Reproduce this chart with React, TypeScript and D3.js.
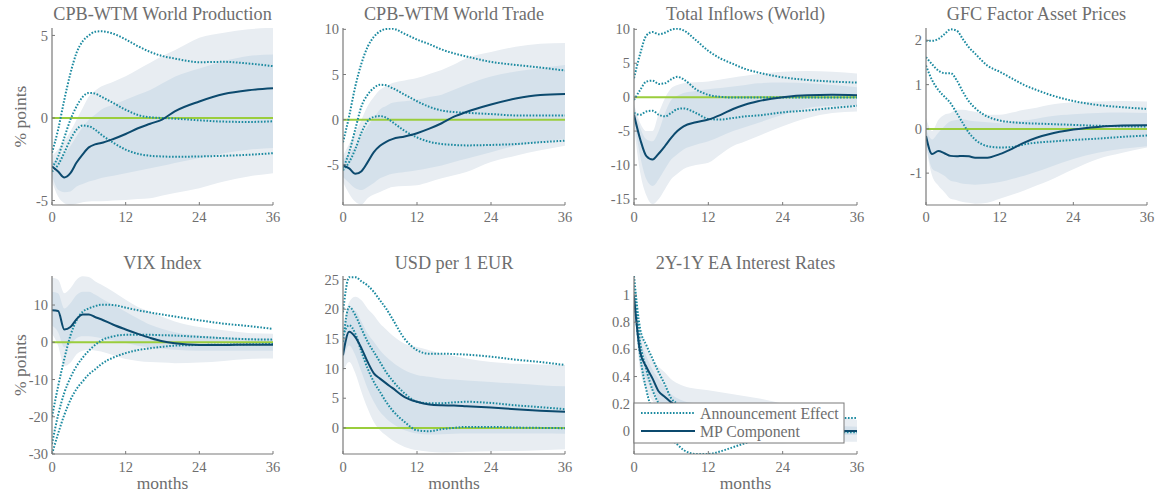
import React from 'react';
import * as d3 from 'd3';

// ---------- data ----------
const MONTHS = [0, 1, 2, 3, 4, 5, 6, 7, 8, 10, 12, 14, 16, 18, 20, 24, 28, 32, 36];
const X_TICKS = [0, 12, 24, 36];

// CPB-WTM World Production
const prodMedian = [-2.94, -3.24, -3.6, -3.34, -2.7, -2.2, -1.78, -1.6, -1.52, -1.27, -0.97, -0.62, -0.35, -0.08, 0.4, 1.0, 1.45, 1.68, 1.8];
const prodAnnHigh = [-2.1, -0.7, 1.1, 2.7, 3.95, 4.65, 5.0, 5.22, 5.25, 5.1, 4.76, 4.35, 4.0, 3.75, 3.6, 3.38, 3.4, 3.3, 3.14];
const prodAnnMid = [-3.0, -2.33, -1.2, -0.1, 0.7, 1.28, 1.52, 1.48, 1.3, 0.9, 0.5, 0.18, 0.04, 0, -0.04, -0.14, -0.22, -0.24, -0.2];
const prodAnnLow = [-3.24, -2.83, -2.1, -1.3, -0.7, -0.46, -0.5, -0.7, -1.0, -1.5, -1.92, -2.17, -2.29, -2.33, -2.35, -2.33, -2.29, -2.23, -2.13];
const prodOuterHigh = [-2.3, -1.9, -1.4, -0.8, -0.1, 0.6, 1.3, 1.65, 1.9, 2.2, 2.53, 2.94, 3.34, 3.75, 4.1, 4.86, 5.16, 5.37, 5.47];
const prodInnerHigh = [-2.7, -2.5, -2.2, -1.7, -1.1, -0.55, -0.1, 0.2, 0.5, 0.8, 1.1, 1.4, 1.7, 2.1, 2.5, 3.0, 3.44, 3.75, 3.85];
const prodInnerLow = [-3.5, -4.35, -4.5, -4.45, -4.15, -4.0, -3.85, -3.75, -3.64, -3.5, -3.34, -3.2, -3.04, -2.9, -2.73, -2.43, -2.13, -1.92, -1.82];
const prodOuterLow = [-3.85, -4.76, -5.16, -5.26, -5.2, -5.1, -5.06, -5.05, -5.05, -5.0, -4.96, -4.9, -4.86, -4.7, -4.55, -4.25, -3.85, -3.54, -3.34];
const prodTicks = [-5, 0, 5];

// CPB-WTM World Trade
const tradeMedian = [-5.07, -5.4, -6.0, -5.7, -4.7, -3.6, -2.9, -2.45, -2.15, -1.86, -1.5, -1.0, -0.4, 0.33, 0.85, 1.68, 2.34, 2.74, 2.85];
const tradeAnnHigh = [-2.5, 0.4, 3.7, 6.24, 8.07, 9.16, 9.78, 10.04, 10.07, 9.5, 8.87, 8.36, 7.77, 7.34, 7.0, 6.4, 6.06, 5.77, 5.44];
const tradeAnnMid = [-5.4, -3.6, -1.05, 1.5, 2.77, 3.5, 3.87, 3.8, 3.5, 2.77, 2.04, 1.42, 1.02, 0.84, 0.76, 0.62, 0.47, 0.47, 0.47];
const tradeAnnLow = [-5.6, -4.7, -3.25, -1.42, -0.15, 0.3, 0.4, 0.22, -0.26, -1.24, -1.97, -2.45, -2.7, -2.8, -2.85, -2.8, -2.7, -2.5, -2.33];
const tradeOuterHigh = [-4.0, -2.7, -1.4, 0.0, 1.5, 2.5, 3.3, 3.7, 4.05, 4.35, 4.6, 5.05, 5.5, 6.1, 6.8, 7.5, 8.07, 8.4, 8.5];
const tradeInnerHigh = [-4.5, -3.7, -2.9, -1.8, -0.7, 0.2, 1.13, 1.5, 1.86, 2.05, 2.2, 2.5, 2.77, 3.3, 3.87, 4.78, 5.33, 5.7, 6.06];
const tradeInnerLow = [-6.35, -7.0, -7.6, -7.8, -7.45, -7.0, -6.5, -6.2, -6.0, -5.8, -5.6, -5.35, -5.07, -4.7, -4.34, -3.6, -2.9, -2.5, -2.15];
const tradeOuterLow = [-6.9, -8.2, -9.1, -9.4, -8.7, -8.3, -8.0, -7.7, -7.45, -7.35, -7.26, -6.9, -6.5, -6.15, -5.8, -4.7, -4.0, -3.4, -2.9];
const tradeTicks = [-5, 0, 5, 10];

// Total Inflows (World)
const inflMedian = [-2.6, -6.2, -8.7, -9.2, -8.3, -7.2, -6.0, -5.0, -4.3, -3.7, -3.3, -2.6, -1.75, -1.07, -0.6, 0, 0.3, 0.34, 0.3];
const inflAnnHigh = [2.8, 6.4, 9.1, 9.6, 9.27, 9.5, 9.95, 10.1, 9.85, 8.4, 6.83, 5.7, 4.9, 4.15, 3.65, 2.93, 2.54, 2.3, 2.15];
const inflAnnMid = [-0.4, 1.07, 2.3, 2.44, 1.95, 2.05, 2.63, 3.0, 2.63, 1.17, 0.34, 0.05, -0.05, -0.05, -0.05, -0.05, -0.05, -0.05, -0.05];
const inflAnnLow = [-2.34, -2.6, -2.1, -2.0, -2.6, -2.83, -2.34, -1.76, -1.66, -2.34, -3.2, -3.3, -3.07, -2.83, -2.7, -2.24, -1.95, -1.6, -1.27];
const inflOuterHigh = [-1.0, -3.8, -5.0, -5.0, -2.34, -0.15, 1.3, 1.8, 2.05, 2.2, 2.3, 2.6, 2.9, 3.15, 3.4, 3.75, 3.85, 3.75, 3.5];
const inflInnerHigh = [-1.4, -4.5, -6.2, -6.5, -5.0, -2.34, -0.4, 0.2, 0.6, 0.9, 1.17, 1.36, 1.56, 1.8, 2.05, 2.15, 2.05, 1.8, 1.46];
const inflInnerLow = [-3.3, -8.7, -12.1, -13.1, -12.1, -10.6, -9.2, -8.4, -7.7, -7.0, -6.5, -5.75, -5.0, -4.4, -3.8, -2.6, -1.6, -1.27, -1.17];
const inflOuterLow = [-4.3, -11.1, -14.5, -15.75, -15.0, -13.56, -12.1, -11.3, -10.6, -10.0, -9.66, -8.4, -7.2, -6.5, -5.75, -4.3, -3.07, -2.34, -2.1];
const inflTicks = [-15, -10, -5, 0, 5, 10];

// GFC Factor Asset Prices
const gfcMedian = [-0.16, -0.57, -0.5, -0.55, -0.61, -0.62, -0.61, -0.62, -0.65, -0.65, -0.57, -0.45, -0.31, -0.2, -0.12, -0.015, 0.045, 0.075, 0.08];
const gfcAnnHigh = [1.99, 1.99, 2.03, 2.14, 2.25, 2.22, 2.03, 1.84, 1.7, 1.43, 1.29, 1.14, 0.99, 0.88, 0.78, 0.63, 0.54, 0.49, 0.45];
const gfcAnnMid = [1.62, 1.46, 1.32, 1.26, 1.26, 1.1, 0.84, 0.62, 0.47, 0.28, 0.19, 0.15, 0.13, 0.12, 0.11, 0.09, 0.07, 0.06, 0.05];
const gfcAnnLow = [1.43, 1.1, 0.88, 0.73, 0.58, 0.36, 0.13, -0.09, -0.24, -0.39, -0.42, -0.41, -0.35, -0.31, -0.29, -0.25, -0.22, -0.18, -0.15];
const gfcOuterHigh = [0.25, -0.05, 0.2, 0.32, 0.36, 0.43, 0.43, 0.41, 0.39, 0.32, 0.32, 0.37, 0.43, 0.48, 0.54, 0.6, 0.62, 0.63, 0.62];
const gfcInnerHigh = [-0.01, -0.24, -0.09, 0.06, 0.17, 0.2, 0.21, 0.19, 0.17, 0.15, 0.13, 0.16, 0.19, 0.23, 0.28, 0.33, 0.36, 0.37, 0.36];
const gfcInnerLow = [-0.31, -0.9, -0.98, -1.06, -1.17, -1.2, -1.24, -1.25, -1.26, -1.24, -1.2, -1.13, -1.06, -0.97, -0.87, -0.68, -0.54, -0.45, -0.39];
const gfcOuterLow = [-0.39, -1.06, -1.28, -1.43, -1.58, -1.61, -1.65, -1.67, -1.69, -1.67, -1.58, -1.49, -1.39, -1.28, -1.17, -0.91, -0.68, -0.54, -0.42];
const gfcTicks = [-1, 0, 1, 2];

// VIX Index
const vixMedian = [8.6, 8.4, 3.45, 4.1, 6.2, 7.45, 7.45, 6.8, 6.2, 4.7, 3.45, 2.27, 1.18, 0.27, -0.27, -0.73, -0.73, -0.64, -0.64];
const vixAnnHigh = [-20, -11.8, -4.5, 1.8, 5.9, 8.2, 9.1, 9.7, 10.1, 10.0, 9.3, 8.6, 8.0, 7.45, 6.9, 5.9, 5.0, 4.36, 3.6];
const vixAnnMid = [-27.3, -19.5, -13.6, -9.5, -6.4, -4.1, -2.27, -0.73, 0.45, 1.6, 2.0, 2.0, 2.0, 1.9, 1.8, 1.45, 1.1, 0.82, 0.73];
const vixAnnLow = [-30, -24.5, -19.5, -15.5, -12.5, -10.5, -8.6, -7.3, -5.9, -4.1, -2.9, -2.1, -1.6, -1.2, -0.9, -0.73, -0.64, -0.55, -0.45];
const vixOuterHigh = [17.3, 16.8, 13.2, 14.5, 16.8, 17.7, 17.5, 16.4, 15.5, 13.6, 11.4, 9.5, 8.2, 6.8, 5.6, 4.1, 3.2, 2.5, 2.3];
const vixInnerHigh = [13.6, 13.2, 9.1, 10.5, 12.7, 13.6, 13.6, 12.8, 11.8, 10.0, 8.2, 6.4, 4.7, 3.6, 2.7, 1.8, 1.36, 1.1, 0.9];
const vixInnerLow = [4.5, 2.7, -1.36, -0.45, 1.1, 1.6, 1.6, 1.4, 1.1, 0.45, -0.18, -0.9, -1.45, -1.75, -2.0, -2.27, -2.27, -2.27, -2.27];
const vixOuterLow = [2.27, -0.9, -6.4, -5.5, -3.2, -2.27, -2.0, -2.2, -2.5, -3.45, -4.5, -5.0, -5.3, -5.45, -5.6, -5.45, -5.0, -4.5, -4.36];
const vixTicks = [-30, -20, -10, 0, 10];

// USD per 1 EUR
const usdMedian = [12.25, 16.2, 15.3, 13.4, 11.1, 9.2, 8.3, 7.5, 6.74, 5.2, 4.4, 3.93, 3.8, 3.76, 3.65, 3.43, 3.15, 2.9, 2.7];
const usdAnnHigh = [19.5, 25.4, 25.4, 24.7, 24.0, 22.9, 21.5, 20.1, 18.4, 15.0, 13.1, 12.5, 12.5, 12.45, 12.35, 12.0, 11.5, 11.1, 10.6];
const usdAnnMid = [14.5, 20.4, 19.0, 16.7, 14.5, 12.8, 11.1, 9.4, 8.0, 5.8, 4.4, 4.16, 4.16, 4.3, 4.4, 4.2, 3.8, 3.5, 3.15];
const usdAnnLow = [15.6, 17.3, 15.9, 12.8, 10.0, 7.75, 6.07, 4.38, 2.98, 1.0, -0.4, -0.56, -0.22, 0, 0.17, 0.17, 0.06, 0, -0.05];
const usdOuterHigh = [16.7, 21.2, 22.1, 21.5, 20.1, 19.0, 17.6, 16.6, 15.6, 14.2, 13.65, 13.1, 12.5, 12.1, 11.7, 11.1, 10.8, 10.7, 10.6];
const usdInnerHigh = [13.9, 20.1, 19.8, 17.9, 15.9, 14.5, 13.1, 12.0, 11.1, 9.7, 8.9, 8.6, 8.3, 8.15, 8.0, 7.75, 7.47, 7.2, 7.0];
const usdInnerLow = [11.4, 13.9, 12.25, 9.4, 6.6, 4.4, 2.7, 1.6, 0.73, -0.4, -0.95, -1.12, -1.07, -1.0, -0.95, -0.95, -0.95, -0.95, -1.0];
const usdOuterLow = [9.4, 11.1, 9.2, 6.07, 3.26, 1.0, -0.4, -1.3, -2.1, -3.2, -3.76, -4.0, -4.16, -4.1, -4.0, -3.93, -3.9, -3.76, -3.6];
const usdTicks = [0, 5, 10, 15, 20, 25];

// 2Y-1Y EA Interest Rates
const rateMedian = [0.99, 0.58, 0.47, 0.385, 0.29, 0.25, 0.21, 0.18, 0.16, 0.12, 0.09, 0.07, 0.05, 0.04, 0.03, 0.015, 0.005, 0, 0];
const rateAnnHigh = [1.14, 0.75, 0.63, 0.53, 0.43, 0.34, 0.24, 0.2, 0.17, 0.14, 0.13, 0.125, 0.12, 0.115, 0.11, 0.105, 0.1, 0.095, 0.095];
const rateAnnMid = [1.07, 0.65, 0.45, 0.3, 0.2, 0.13, 0.08, 0.05, 0.03, 0.01, 0, -0.005, -0.01, -0.01, -0.01, -0.01, -0.01, -0.01, -0.01];
const rateAnnLow = [1.0, 0.55, 0.3, 0.14, 0.03, 0.0, -0.06, -0.1, -0.14, -0.17, -0.17, -0.15, -0.12, -0.09, -0.06, -0.03, -0.01, -0.005, 0];
const rateOuterHigh = [1.0, 0.75, 0.62, 0.52, 0.47, 0.43, 0.38, 0.35, 0.33, 0.31, 0.3, 0.285, 0.27, 0.255, 0.24, 0.2, 0.17, 0.12, 0.08];
const rateInnerHigh = [1.0, 0.68, 0.55, 0.45, 0.38, 0.32, 0.27, 0.24, 0.22, 0.2, 0.18, 0.165, 0.15, 0.135, 0.12, 0.09, 0.06, 0.04, 0.03];
const rateInnerLow = [0.98, 0.5, 0.38, 0.3, 0.22, 0.17, 0.12, 0.09, 0.06, 0.02, 0.0, -0.015, -0.03, -0.035, -0.04, -0.04, -0.03, -0.03, -0.03];
const rateOuterLow = [0.97, 0.45, 0.3, 0.22, 0.15, 0.1, 0.05, 0.02, -0.01, -0.05, -0.07, -0.08, -0.09, -0.09, -0.09, -0.09, -0.08, -0.08, -0.08];
const rateTicks = [0, 0.2, 0.4, 0.6, 0.8, 1];

const TITLES = [
  'CPB-WTM World Production',
  'CPB-WTM World Trade',
  'Total Inflows (World)',
  'GFC Factor Asset Prices',
  'VIX Index',
  'USD per 1 EUR',
  '2Y-1Y EA Interest Rates',
];
const LEGEND_LABELS = ['Announcement Effect', 'MP Component'];
const Y_LABEL = '% points';
const X_LABEL = 'months';

// ---------- layout / style ----------
const COLS = [
  [52, 273],
  [343, 565],
  [634, 857],
  [926, 1147],
];
const ROWS = [
  { top: 28, bottom: 205, titleY: 20, tickY: 222, labelY: 489 },
  { top: 276, bottom: 454, titleY: 269, tickY: 472, labelY: 489 },
];

const C_OUTER = '#e8edf2';
const C_INNER = '#d5e1eb';
const C_MEDIAN = '#0c4a6e';
const C_ANN = '#1b8aa0';
const C_ZERO = '#9acd3c';
const C_AXIS = '#7a7a7a';
const C_TEXT = '#6e6e6e';
const FONT = 'Liberation Serif';

const PANELS = [
  { median: prodMedian, ann: [prodAnnHigh, prodAnnMid, prodAnnLow], outer: [prodOuterLow, prodOuterHigh], inner: [prodInnerLow, prodInnerHigh], domain: [-5.27, 5.45], ticks: prodTicks, col: 0, row: 0 },
  { median: tradeMedian, ann: [tradeAnnHigh, tradeAnnMid, tradeAnnLow], outer: [tradeOuterLow, tradeOuterHigh], inner: [tradeInnerLow, tradeInnerHigh], domain: [-9.45, 10.15], ticks: tradeTicks, col: 1, row: 0 },
  { median: inflMedian, ann: [inflAnnHigh, inflAnnMid, inflAnnLow], outer: [inflOuterLow, inflOuterHigh], inner: [inflInnerLow, inflInnerHigh], domain: [-15.9, 10.2], ticks: inflTicks, col: 2, row: 0 },
  { median: gfcMedian, ann: [gfcAnnHigh, gfcAnnMid, gfcAnnLow], outer: [gfcOuterLow, gfcOuterHigh], inner: [gfcInnerLow, gfcInnerHigh], domain: [-1.72, 2.28], ticks: gfcTicks, col: 3, row: 0 },
  { median: vixMedian, ann: [vixAnnHigh, vixAnnMid, vixAnnLow], outer: [vixOuterLow, vixOuterHigh], inner: [vixInnerLow, vixInnerHigh], domain: [-30, 17.8], ticks: vixTicks, col: 0, row: 1 },
  { median: usdMedian, ann: [usdAnnHigh, usdAnnMid, usdAnnLow], outer: [usdOuterLow, usdOuterHigh], inner: [usdInnerLow, usdInnerHigh], domain: [-4.4, 25.6], ticks: usdTicks, col: 1, row: 1 },
  { median: rateMedian, ann: [rateAnnHigh, rateAnnMid, rateAnnLow], outer: [rateOuterLow, rateOuterHigh], inner: [rateInnerLow, rateInnerHigh], domain: [-0.17, 1.14], ticks: rateTicks, col: 2, row: 1 },
];

const textStyle = { fontFamily: FONT };

function PanelView({ p, i }: { p: any; i: number }) {
  const [x0, x1] = COLS[p.col];
  const r = ROWS[p.row];
  const x = d3.scaleLinear().domain([0, 36]).range([x0, x1]);
  const y = d3.scaleLinear().domain(p.domain).range([r.bottom, r.top]);
  const line = d3
    .line<number>()
    .x((_, k) => x(MONTHS[k]))
    .y((v) => y(v))
    .curve(d3.curveMonotoneX);
  const area = (lo: number[], hi: number[]) =>
    d3
      .area<number>()
      .x((_, k) => x(MONTHS[k]))
      .y0((_, k) => y(lo[k]))
      .y1((_, k) => y(hi[k]))
      .curve(d3.curveMonotoneX)(lo) as string;
  const clipId = `clip${i}`;
  return (
    <g>
      <defs>
        <clipPath id={clipId}>
          <rect x={x0} y={r.top} width={x1 - x0} height={r.bottom - r.top} />
        </clipPath>
      </defs>
      <g clipPath={`url(#${clipId})`}>
        <path d={area(p.outer[0], p.outer[1])} fill={C_OUTER} />
        <path d={area(p.inner[0], p.inner[1])} fill={C_INNER} />
        <line x1={x(0)} x2={x(36)} y1={y(0)} y2={y(0)} stroke={C_ZERO} strokeWidth={2} />
        {p.ann.map((s: number[], k: number) => (
          <path key={k} d={line(s) as string} fill="none" stroke={C_ANN} strokeWidth={2} strokeDasharray="1.6 1.6" />
        ))}
        <path d={line(p.median) as string} fill="none" stroke={C_MEDIAN} strokeWidth={2} />
      </g>
      <line x1={x0} x2={x0} y1={r.top} y2={r.bottom} stroke={C_AXIS} strokeWidth={1.2} />
      <line x1={x0} x2={x1} y1={r.bottom} y2={r.bottom} stroke={C_AXIS} strokeWidth={1.2} />
      {p.ticks.map((t: number) => (
        <g key={`y${t}`}>
          <line x1={x0} x2={x0 + 3} y1={y(t)} y2={y(t)} stroke={C_AXIS} strokeWidth={1} />
          <text x={x0 - 4} y={y(t)} dy="0.35em" textAnchor="end" fontSize={14.5} fill={C_TEXT} style={textStyle}>
            {String(t)}
          </text>
        </g>
      ))}
      {X_TICKS.map((t) => (
        <g key={`x${t}`}>
          <line x1={x(t)} x2={x(t)} y1={r.bottom} y2={r.bottom - 3} stroke={C_AXIS} strokeWidth={1} />
          <text x={x(t)} y={r.tickY} textAnchor="middle" fontSize={14.5} fill={C_TEXT} style={textStyle}>
            {String(t)}
          </text>
        </g>
      ))}
      <text x={(x0 + x1) / 2} y={r.titleY} textAnchor="middle" fontSize={18.2} fill={C_TEXT} style={textStyle}>
        {TITLES[i]}
      </text>
      {p.row === 1 && (
        <text x={(x0 + x1) / 2} y={r.labelY} textAnchor="middle" fontSize={17.5} fill={C_TEXT} style={textStyle}>
          {X_LABEL}
        </text>
      )}
      {p.col === 0 && (
        <text
          transform={`translate(20,${(r.top + r.bottom) / 2}) rotate(-90)`}
          textAnchor="middle"
          dy="0.35em"
          fontSize={17.5}
          fill={C_TEXT}
          style={textStyle}
        >
          {Y_LABEL}
        </text>
      )}
    </g>
  );
}

export default function App() {
  const lx = 634;
  const ly = 403;
  return (
    <svg width={1163} height={494} style={{ position: 'absolute', left: 0, top: 0, background: '#fff' }}>
      <rect x={0} y={0} width={1163} height={494} fill="#fff" />
      {PANELS.map((p, i) => (
        <PanelView key={i} p={p} i={i} />
      ))}
      <g>
        <rect x={lx} y={ly} width={210} height={40} fill="#fff" stroke={C_AXIS} strokeWidth={1} />
        <line x1={lx + 7} x2={lx + 61} y1={ly + 10} y2={ly + 10} stroke={C_ANN} strokeWidth={2} strokeDasharray="1.6 1.6" />
        <line x1={lx + 7} x2={lx + 61} y1={ly + 28} y2={ly + 28} stroke={C_MEDIAN} strokeWidth={2} />
        <text x={lx + 66} y={ly + 10} dy="0.35em" fontSize={15.8} fill={C_TEXT} style={textStyle}>
          {LEGEND_LABELS[0]}
        </text>
        <text x={lx + 66} y={ly + 28} dy="0.35em" fontSize={15.8} fill={C_TEXT} style={textStyle}>
          {LEGEND_LABELS[1]}
        </text>
      </g>
    </svg>
  );
}
